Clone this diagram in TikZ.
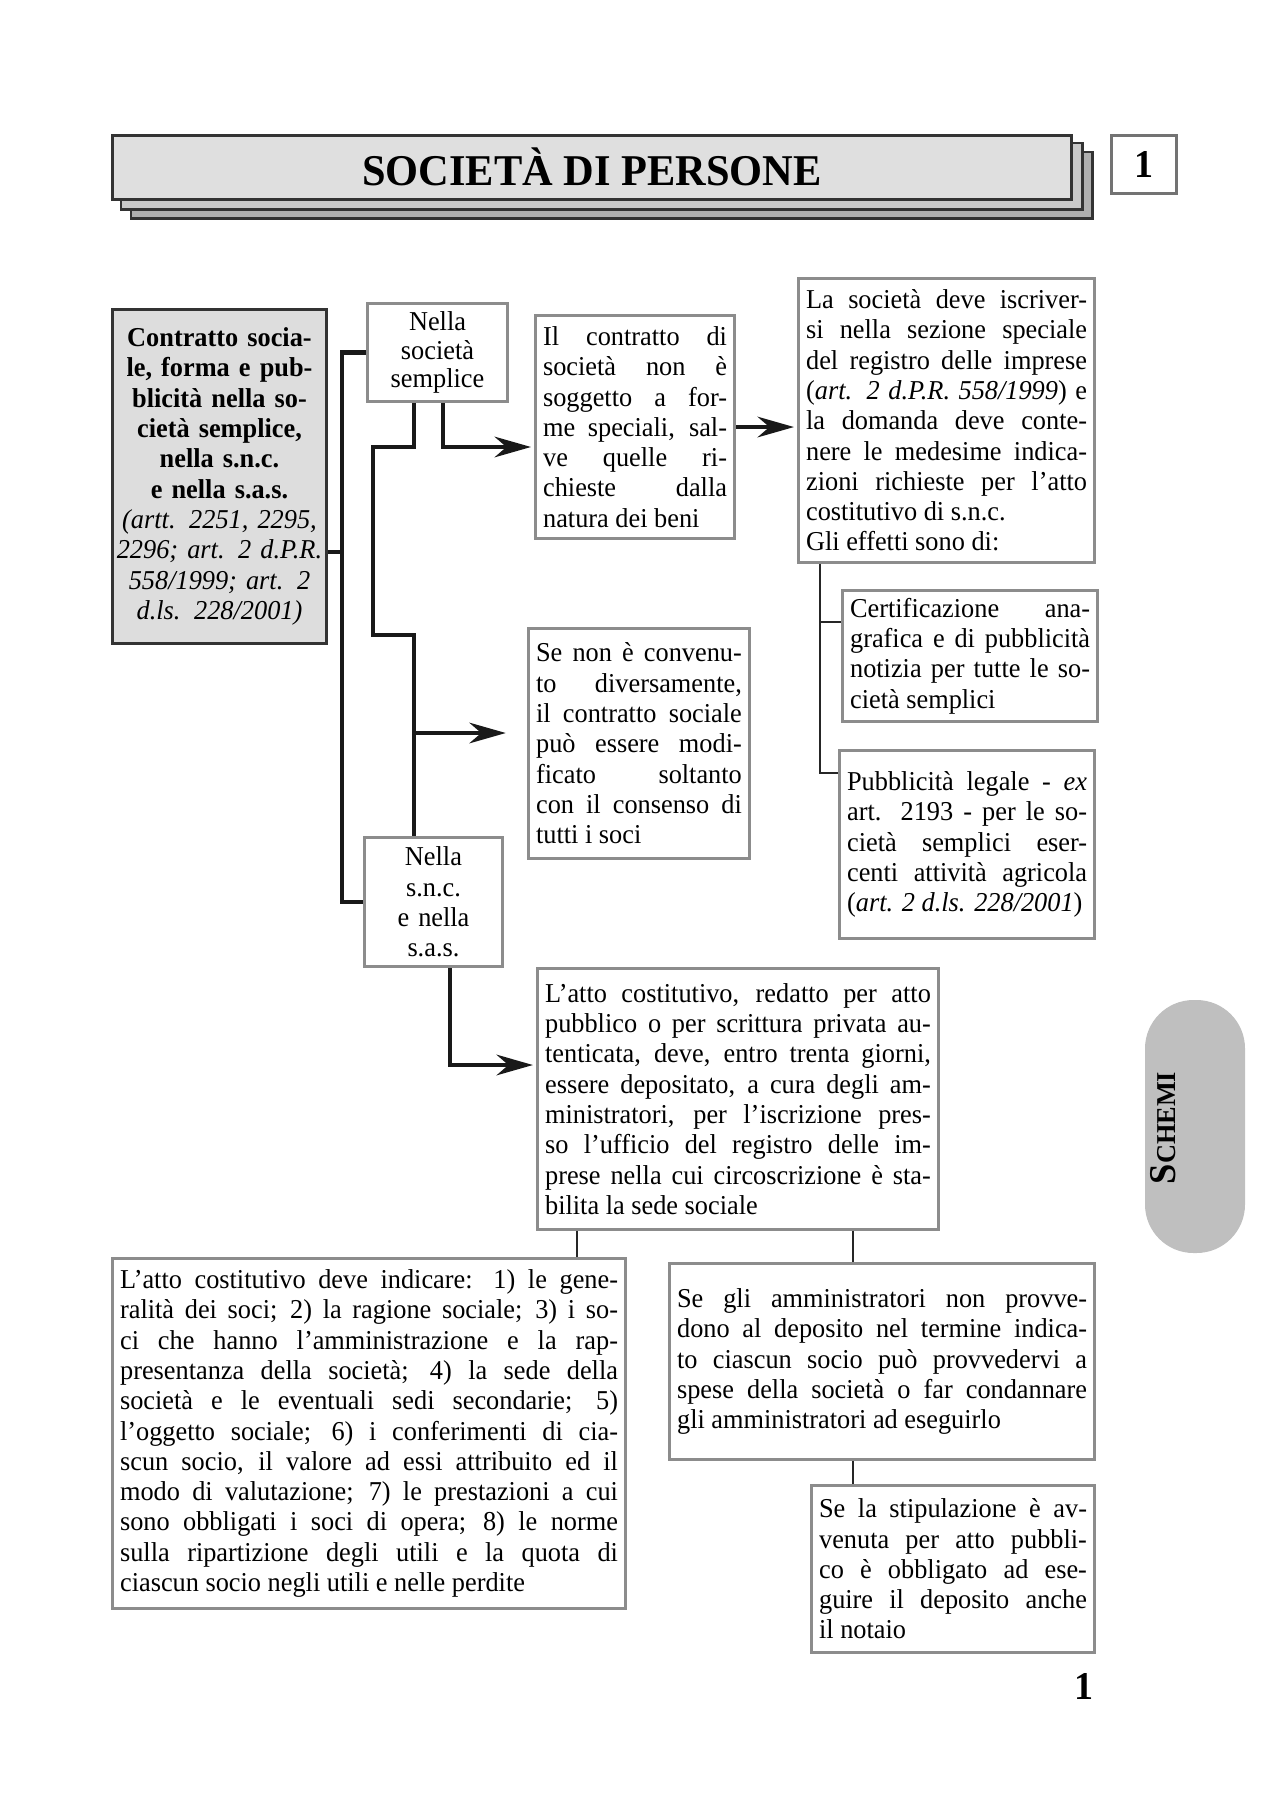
\documentclass[tikz,border=0pt]{standalone}
\usepackage{fontspec}
\setmainfont{Liberation Serif}[FakeStretch=0.965]
\usetikzlibrary{arrows.meta,positioning,calc,backgrounds}
\setlength{\parindent}{0pt}
\tolerance=10000
\hyphenpenalty=10000
\exhyphenpenalty=10000
\tikzset{
  box/.style={draw=black!45,line width=1pt,fill=white,anchor=north west,inner xsep=2.5pt,inner ysep=2pt,align=justify,font=\fontsize{9}{10}\selectfont},
  mainbox/.style={box,draw=black!80,fill=gray!27,align=center,inner xsep=0.8pt},
  tagbox/.style={box,align=center,font=\fontsize{9}{9.3}\selectfont},
  titlebox/.style={draw=black!80,line width=0.9pt,fill=gray!25,anchor=north west,minimum width=316.5pt,minimum height=21.1pt,font=\fontsize{14.5}{17}\bfseries},
  shadebox/.style={draw=black!80,line width=0.9pt},
  numbox/.style={draw=black!55,line width=1pt,fill=white,anchor=north west,minimum width=21.5pt,minimum height=19.1pt,font=\fontsize{13}{13}\bfseries},
  trunk/.style={line width=1.4pt,black!90},
  arr/.style={trunk,-{Stealth[length=12pt,width=6.8pt]},shorten >=1pt},
  link/.style={line width=0.6pt,black!85}
}
\begin{document}
\begin{tikzpicture}[x=0.33pt,y=-0.33pt]
  \useasboundingbox (0,0) rectangle (1280,1804);

  % heading
  \node[titlebox] (title) at (111,134) {SOCIETÀ DI PERSONE};
  \begin{scope}[on background layer]
    \draw[shadebox,fill=gray!62] ($(title.north west)+(20,18)$) rectangle ($(title.south east)+(20,18)$);
    \draw[shadebox,fill=gray!42] ($(title.north west)+(10,9)$) rectangle ($(title.south east)+(10,9)$);
  \end{scope}
  \node[numbox] (num) at (1110,134) {1};

  % boxes
  \node[mainbox,text width=69pt,minimum height=110.2pt] (contract) at (111,308)
    {{\bfseries Contratto socia-\\le, forma e pub-\\blicità nella so-\\cietà semplice,\\nella s.n.c.\\e nella s.a.s.}\\
     \itshape (artt. 2251, 2295,\\2296; art. 2 d.P.R.\\558/1999; art. 2\\d.ls. 228/2001)};
  \node[tagbox,text width=41.2pt,minimum height=32.3pt] (simple) at (366,302) {Nella\\società\\semplice};
  \node[box,text width=60.7pt,minimum height=73.6pt] (noform) at (534,314)
    {Il contratto di\linebreak società non è\linebreak soggetto a for-\linebreak me speciali, sal-\linebreak ve quelle ri-\linebreak chieste dalla\linebreak natura dei beni};
  \node[box,text width=92.7pt,minimum height=93.7pt] (register) at (797,277)
    {La società deve iscriver-\linebreak si nella sezione speciale\linebreak del registro delle imprese\linebreak (\emph{art. 2 d.P.R. 558/1999}) e\linebreak la domanda deve conte-\linebreak nere le medesime indica-\linebreak zioni richieste per l'atto\linebreak costitutivo di s.n.c.\\Gli effetti sono di:};
  \node[box,text width=79.2pt,minimum height=43.2pt] (certif) at (841,589)
    {Certificazione ana-\linebreak grafica e di pubblicità\linebreak notizia per tutte le so-\linebreak cietà semplici};
  \node[box,text width=79.2pt,minimum height=62pt] (legal) at (838,749)
    {Pubblicità legale - \emph{ex}\linebreak art. 2193 - per le so-\linebreak cietà semplici eser-\linebreak centi attività agricola\linebreak (\emph{art. 2 d.ls. 228/2001})};
  \node[box,text width=67.9pt,minimum height=75.9pt] (modify) at (527,627)
    {Se non è convenu-\linebreak to diversamente,\linebreak il contratto sociale\linebreak può essere modi-\linebreak ficato soltanto\linebreak con il consenso di\linebreak tutti i soci};
  \node[tagbox,text width=40.5pt,minimum height=42.6pt,font=\fontsize{9}{10}\selectfont] (snc) at (363,836) {Nella\\s.n.c.\\e nella\\s.a.s.};
  \node[box,text width=127.3pt,minimum height=86.1pt] (deed) at (536,967)
    {L'atto costitutivo, redatto per atto\linebreak pubblico o per scrittura privata au-\linebreak tenticata, deve, entro trenta giorni,\linebreak essere depositato, a cura degli am-\linebreak ministratori, per l'iscrizione pres-\linebreak so l'ufficio del registro delle im-\linebreak prese nella cui circoscrizione è sta-\linebreak bilita la sede sociale};
  \node[box,text width=164.3pt,minimum height=115.5pt] (contents) at (111,1257)
    {L'atto costitutivo deve indicare: 1) le gene-\linebreak ralità dei soci; 2) la ragione sociale; 3) i so-\linebreak ci che hanno l'amministrazione e la rap-\linebreak presentanza della società; 4) la sede della\linebreak società e le eventuali sedi secondarie; 5)\linebreak l'oggetto sociale; 6) i conferimenti di cia-\linebreak scun socio, il valore ad essi attribuito ed il\linebreak modo di valutazione; 7) le prestazioni a cui\linebreak sono obbligati i soci di opera; 8) le norme\linebreak sulla ripartizione degli utili e la quota di\linebreak ciascun socio negli utili e nelle perdite};
  \node[box,text width=135.3pt,minimum height=64.7pt] (failure) at (668,1262)
    {Se gli amministratori non provve-\linebreak dono al deposito nel termine indica-\linebreak to ciascun socio può provvedervi a\linebreak spese della società o far condannare\linebreak gli amministratori ad eseguirlo};
  \node[box,text width=88.4pt,minimum height=55.1pt] (notary) at (810,1484)
    {Se la stipulazione è av-\linebreak venuta per atto pubbli-\linebreak co è obbligato ad ese-\linebreak guire il deposito anche\linebreak il notaio};

  % thick connectors
  \coordinate (bus) at (342,552);
  \draw[trunk] (contract.east |- bus) -- (bus);
  \draw[trunk] (simple.west) -| (bus) |- (snc.west);
  \coordinate (ja) at (443,447);
  \draw[arr] (simple.south -| ja) -- (ja) -- (noform.west |- ja);
  \coordinate (jb) at (414,447);
  \coordinate (jc) at (373,635);
  \draw[trunk] (simple.south -| jb) -- (jb) -| (jc) -- (jc -| jb) -- (snc.north -| jb);
  \coordinate (jd) at (414,733);
  \draw[arr,shorten >=7pt] (jd) -- (modify.west |- jd);
  \coordinate (je) at (450,1065);
  \draw[arr] (snc.south -| je) -- (je) -- (deed.west |- je);
  \draw[arr] (noform.east) -- (register.west |- noform.east);

  % thin connectors
  \coordinate (jf) at (820,622);
  \coordinate (jg) at (820,773);
  \draw[link] (register.south -| jf) -- (jg) -- (legal.west |- jg);
  \draw[link] (jf) -- (certif.west |- jf);
  \coordinate (jh) at (577,1240);
  \draw[link] (deed.south -| jh) -- (contents.north -| jh);
  \coordinate (ji) at (853,1240);
  \draw[link] (deed.south -| ji) -- (failure.north -| ji);
  \draw[link] (failure.south -| ji) -- (notary.north -| ji);

  % side tab and page number
  \fill[gray!50,rounded corners=16pt] (1145,1000) rectangle (1245,1253);
  \node[rotate=90] (tab) at (1163,1128) {\bfseries\fontsize{12.5}{12}\selectfont S\fontsize{9}{9}\selectfont CHEMI};
  \node[font=\fontsize{13}{13}\bfseries] (pagenum) at (1084,1686) {1};
\end{tikzpicture}
\end{document}
